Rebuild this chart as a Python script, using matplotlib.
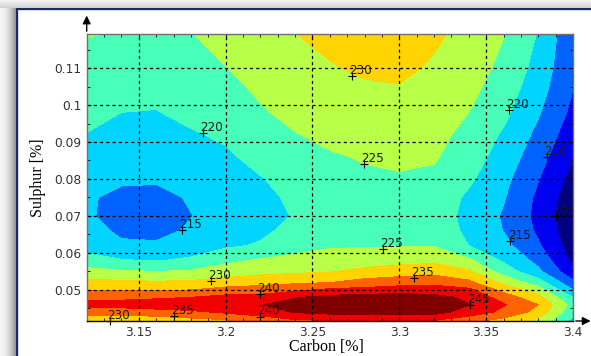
import numpy as np
import matplotlib.pyplot as plt

# grid (hardness values)
carbon = [3.12, 3.14, 3.16, 3.18, 3.20, 3.22, 3.24, 3.26, 3.28, 3.30, 3.32, 3.34, 3.36, 3.38, 3.40]
sulphur = [0.0416, 0.044, 0.046, 0.048, 0.050, 0.052, 0.055, 0.058, 0.062, 0.066,
           0.070, 0.075, 0.080, 0.086, 0.092, 0.098, 0.104, 0.110, 0.1192]

# one list per carbon column, bottom (low sulphur) to top
col_312 = [230.5, 238.0, 241.5, 238.5, 234.7, 231.6, 226.7, 221.7, 218.3, 216.6, 215.5, 215.5, 216.3, 217.8, 219.9, 221.0, 222.1, 223.2, 225.2]
col_314 = [230.0, 237.5, 241.8, 238.9, 234.5, 231.0, 225.6, 220.3, 215.7, 214.2, 213.6, 214.0, 215.6, 216.9, 218.4, 220.0, 221.8, 223.0, 224.8]
col_316 = [231.5, 238.1, 242.7, 239.3, 234.6, 230.7, 225.0, 219.7, 215.6, 213.8, 213.3, 213.8, 215.5, 216.8, 218.3, 219.8, 221.3, 222.6, 224.5]
col_318 = [233.0, 239.0, 243.3, 240.0, 235.0, 231.0, 225.5, 220.8, 217.3, 215.6, 214.9, 215.4, 216.6, 218.0, 219.5, 221.3, 222.8, 224.3, 224.9]
col_320 = [234.0, 240.8, 244.3, 241.5, 236.9, 232.1, 227.6, 223.8, 219.2, 217.3, 216.3, 216.3, 217.3, 219.2, 220.8, 222.1, 223.5, 224.9, 226.6]
col_322 = [237.0, 242.2, 244.8, 241.8, 237.5, 233.3, 228.5, 225.5, 220.5, 219.0, 218.4, 218.6, 219.7, 221.6, 223.1, 224.5, 225.7, 227.0, 228.6]
col_324 = [239.0, 245.4, 247.2, 244.6, 239.0, 234.2, 229.1, 226.2, 223.5, 221.5, 220.3, 221.0, 222.0, 223.5, 224.8, 226.3, 227.5, 228.5, 229.9]
col_326 = [239.5, 246.6, 248.7, 246.6, 241.0, 235.0, 229.7, 227.0, 224.5, 223.0, 222.4, 222.7, 223.6, 224.6, 226.0, 227.2, 228.4, 229.6, 231.5]
col_328 = [239.5, 247.2, 249.4, 247.3, 241.5, 236.9, 231.3, 227.6, 224.6, 223.8, 223.5, 223.7, 224.4, 225.3, 226.8, 228.0, 229.2, 230.8, 233.0]
col_330 = [240.0, 247.4, 249.2, 247.6, 242.6, 237.9, 232.4, 228.3, 224.8, 224.1, 223.8, 224.0, 224.6, 225.8, 227.2, 228.5, 229.6, 231.0, 233.5]
col_332 = [239.5, 246.9, 248.5, 246.6, 242.5, 238.5, 233.2, 228.8, 224.8, 223.2, 222.5, 222.8, 224.0, 225.5, 226.4, 227.4, 228.4, 229.4, 230.8]
col_334 = [236.5, 242.8, 245.1, 244.0, 241.2, 236.2, 230.8, 225.8, 220.0, 218.9, 218.6, 219.2, 220.8, 222.3, 223.6, 225.0, 226.2, 227.2, 228.6]
col_336 = [233.0, 238.8, 240.4, 237.7, 233.5, 228.9, 222.8, 219.3, 216.5, 214.9, 214.5, 215.4, 216.4, 218.0, 219.4, 221.2, 222.6, 223.8, 225.2]
col_338 = [228.5, 233.3, 235.0, 231.6, 227.5, 222.5, 216.0, 213.5, 210.6, 209.2, 208.6, 209.0, 210.2, 212.0, 213.8, 215.5, 217.0, 218.3, 219.7]
col_340 = [218.5, 221.5, 223.0, 220.0, 215.0, 211.0, 206.5, 204.0, 202.5, 201.5, 201.2, 201.8, 203.3, 205.2, 207.0, 208.8, 210.0, 210.5, 211.0]

levels = [190, 205, 210, 215, 220, 225, 230, 235, 240, 245, 260]
colors = ['#000080', '#0000f0', '#0063ff', '#00d4ff', '#47ffb8',
          '#b8ff47', '#ffd400', '#ff6300', '#f00000', '#800000']

# contour labels
label_c = [3.2725, 3.1871, 3.2797, 3.3632, 3.3852, 3.3900, 3.3640, 3.1748,
           3.2907, 3.1915, 3.3083, 3.2197, 3.2197, 3.3405, 3.1334, 3.1704]
label_s = [0.1078, 0.0924, 0.0841, 0.0986, 0.0860, 0.0700, 0.0631, 0.0662,
           0.0610, 0.0524, 0.0532, 0.0488, 0.0428, 0.0458, 0.0416, 0.0430]
label_txt = ['230', '220', '225', '220', '210', '205', '215', '215',
             '225', '230', '235', '240', '240', '245', '230', '235']

xticks = [3.15, 3.2, 3.25, 3.3, 3.35, 3.4]
xticklabels = ['3.15', '3.2', '3.25', '3.3', '3.35', '3.4']
yticks = [0.05, 0.06, 0.07, 0.08, 0.09, 0.1, 0.11]
yticklabels = ['0.05', '0.06', '0.07', '0.08', '0.09', '0.1', '0.11']

hardness = np.array([col_312, col_314, col_316, col_318, col_320, col_322, col_324,
                     col_326, col_328, col_330, col_332, col_334, col_336, col_338,
                     col_340]).T

W, H = 591, 356
fig = plt.figure(figsize=(W / 100, H / 100), dpi=100)

# window background with shadow and frame
bg = np.ones((H, W, 3))
for i in range(8):
    bg[i, :, :] = 0.95 - 0.13 * i / 8
for j in range(17):
    bg[8:, j, :] = 0.96 - 0.42 * (j / 16) ** 2
navy = (0.12, 0.17, 0.38)
bg[8:10, 16:, :] = navy
bg[8:, 16:18, :] = navy
bg[10, 18:, :] = (0.82, 0.86, 0.94)
bg[10:, 18, :] = (0.82, 0.86, 0.94)
bgax = fig.add_axes([0, 0, 1, 1])
bgax.imshow(bg, aspect='auto', interpolation='nearest')
bgax.axis('off')

ax = fig.add_axes([86.7 / W, 1 - 321 / H, (573 - 86.7) / W, (321 - 34) / H])
ax.contourf(carbon, sulphur, hardness, levels=levels, colors=colors)
ax.set_xlim(3.12, 3.40)
ax.set_ylim(0.0416, 0.1192)

ax.set_xticks(xticks)
ax.set_xticklabels(xticklabels)
ax.set_yticks(yticks)
ax.set_yticklabels(yticklabels)
ax.set_xticks(np.arange(3.12, 3.4001, 0.01), minor=True)
ax.set_yticks(np.arange(0.045, 0.1191, 0.005), minor=True)
ax.tick_params(which='both', direction='in', top=True, right=True,
               labelsize=8.8, labelcolor='#333333', color='black')
ax.tick_params(which='major', length=3, pad=3.5)
ax.tick_params(which='minor', length=2)
ax.grid(True, which='major', color='black', linestyle=(0, (2.5, 2.5)), linewidth=0.9)
for sp in ax.spines.values():
    sp.set_color('#707070')
    sp.set_linewidth(1.0)
ax.spines['bottom'].set_color('black')

ax.plot(label_c, label_s, '+', color='black', ms=6, mew=0.8, clip_on=False, zorder=5)
for c, s, t in zip(label_c, label_s, label_txt):
    ax.annotate(t, (c, s), xytext=(-2, 1.5), textcoords='offset points',
                fontsize=8.6, color='#1a1a1a', ha='left', va='baseline',
                clip_on=True, zorder=6)

# axis arrows
ax.annotate('', xy=(0, 1.074), xytext=(0, 1.0), xycoords='axes fraction',
            arrowprops=dict(arrowstyle='-|>', color='black', lw=1, mutation_scale=12),
            annotation_clip=False)
ax.annotate('', xy=(1.042, 0), xytext=(1.0, 0), xycoords='axes fraction',
            arrowprops=dict(arrowstyle='-|>', color='black', lw=1, mutation_scale=12),
            annotation_clip=False)

fig.text(326 / W, 1 - 347 / H, 'Carbon [%]', family='Liberation Serif',
         fontsize=11.5, ha='center', va='center')
fig.text(37.5 / W, 1 - 178 / H, 'Sulphur [%]', family='Liberation Serif',
         fontsize=11.5, ha='center', va='center', rotation=90)

fig.savefig('out.png', dpi=100)
